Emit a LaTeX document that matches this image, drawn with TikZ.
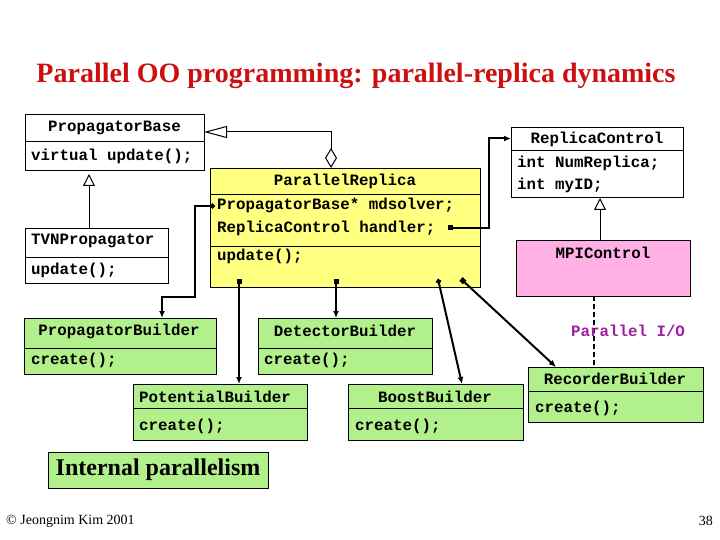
\documentclass[tikz,border=0pt]{standalone}
\usepackage{fontspec}
\setmainfont{Liberation Serif}
\setmonofont{Liberation Mono}
\usetikzlibrary{arrows.meta,calc}
\definecolor{ttlred}{RGB}{205,15,15}
\definecolor{clsyellow}{RGB}{255,255,128}
\definecolor{clsgreen}{RGB}{178,240,140}
\definecolor{clspink}{RGB}{255,176,228}
\definecolor{iopurple}{RGB}{160,30,160}
\begin{document}
\begin{tikzpicture}[x=1pt,y=-1pt,
  comp/.style={draw=black, line width=0.9pt, anchor=north west, inner sep=0pt, outer sep=0pt},
  code/.style={font=\fontsize{15.8}{18}\selectfont\ttfamily\bfseries, inner sep=0pt},
  codel/.style={code, anchor=west},
  thinlink/.style={line width=1pt},
  link/.style={line width=2pt}
]
\useasboundingbox[fill=white] (0,0) rectangle (720,540);

% title
\node[text=ttlred, font=\fontsize{28}{32}\selectfont\bfseries, inner sep=0pt] (title) at (356,76) {Parallel OO programming: parallel-replica dynamics};

% PropagatorBase
\node[comp, minimum width=179pt, minimum height=27pt] (pbH) at (25,114) {};
\node[comp, minimum width=179pt, minimum height=29pt] (pbB) at (25,141) {};
\node[code] (pbT) at (pbH.center) {PropagatorBase};
\node[codel] (pbM) at (31,156) {virtual update();};

% TVNPropagator
\node[comp, minimum width=143pt, minimum height=29pt] (tvH) at (25,228) {};
\node[comp, minimum width=143pt, minimum height=26pt] (tvB) at (25,257) {};
\node[codel] (tvT) at (31,241) {TVNPropagator};
\node[codel] (tvM) at (31,270) {update();};

% ParallelReplica
\node[comp, fill=clsyellow, minimum width=270pt, minimum height=26pt] (prH) at (210,168) {};
\node[comp, fill=clsyellow, minimum width=270pt, minimum height=52pt] (prA) at (210,194) {};
\node[comp, fill=clsyellow, minimum width=270pt, minimum height=41pt] (prM) at (210,246) {};
\node[code] (prT) at (345,181) {ParallelReplica};
\node[codel] (prA1) at (217,205) {PropagatorBase* mdsolver;};
\node[codel] (prA2) at (217,228) {ReplicaControl handler;};
\node[codel] (prM1) at (217,256) {update();};

% ReplicaControl
\node[comp, minimum width=172pt, minimum height=23pt] (rcH) at (511,127) {};
\node[comp, minimum width=172pt, minimum height=47pt] (rcB) at (511,150) {};
\node[code] (rcT) at (597,139) {ReplicaControl};
\node[codel] (rcA1) at (517,163) {int NumReplica;};
\node[codel] (rcA2) at (517,185) {int myID;};

% MPIControl
\node[comp, fill=clspink, minimum width=174pt, minimum height=56pt] (mpi) at (516,240) {};
\node[code] (mpiT) at (603,253) {MPIControl};

% Builders
\node[comp, fill=clsgreen, minimum width=192pt, minimum height=30pt] (pgH) at (24,318) {};
\node[comp, fill=clsgreen, minimum width=192pt, minimum height=26pt] (pgB) at (24,348) {};
\node[code] (pgT) at (119,331) {PropagatorBuilder};
\node[codel] (pgM) at (31,360) {create();};

\node[comp, fill=clsgreen, minimum width=174pt, minimum height=30pt] (dbH) at (258,318) {};
\node[comp, fill=clsgreen, minimum width=174pt, minimum height=26pt] (dbB) at (258,348) {};
\node[code] (dbT) at (345,331) {DetectorBuilder};
\node[codel] (dbM) at (264,360) {create();};

\node[comp, fill=clsgreen, minimum width=174pt, minimum height=24pt] (ptH) at (133,384) {};
\node[comp, fill=clsgreen, minimum width=174pt, minimum height=32pt] (ptB) at (133,408) {};
\node[codel] (ptT) at (139,397) {PotentialBuilder};
\node[codel] (ptM) at (139,426) {create();};

\node[comp, fill=clsgreen, minimum width=175pt, minimum height=24pt] (bbH) at (348,384) {};
\node[comp, fill=clsgreen, minimum width=175pt, minimum height=32pt] (bbB) at (348,408) {};
\node[code] (bbT) at (435,397) {BoostBuilder};
\node[codel] (bbM) at (355,426) {create();};

\node[comp, fill=clsgreen, minimum width=175pt, minimum height=24pt] (rbH) at (528,367) {};
\node[comp, fill=clsgreen, minimum width=175pt, minimum height=31pt] (rbB) at (528,391) {};
\node[code] (rbT) at (615,379) {RecorderBuilder};
\node[codel] (rbM) at (535,408) {create();};

% Internal parallelism
\node[comp, fill=clsgreen, minimum width=220pt, minimum height=36pt] (ip) at (48,452) {};
\node[font=\fontsize{24}{28}\selectfont\bfseries, inner sep=0pt] (ipT) at (ip.center) {Internal parallelism};

% footer
\node[font=\fontsize{14}{16}\selectfont, anchor=west, inner sep=0pt] (copy) at (6,521) {© Jeongnim Kim 2001};
\node[font=\fontsize{14}{16}\selectfont, anchor=east, inner sep=0pt] (pg) at (713,521) {38};

% aggregation ParallelReplica -> PropagatorBase
\coordinate (aggS) at ([xshift=121pt]prH.north west);
\coordinate (aggE) at ([yshift=-18pt]pbH.north east);
\draw[thinlink, {Diamond[open,length=20pt,width=12pt]}-{Triangle[open,length=23pt,width=12pt]}]
  (aggS) -- ++(0,-36) -- (aggE);

% inheritance TVNPropagator -> PropagatorBase
\draw[thinlink, -{Triangle[open,length=12pt,width=12pt]}, shorten >=4pt]
  ([xshift=64pt]tvH.north west) -- ([xshift=64pt]pbB.south west);

% inheritance MPIControl -> ReplicaControl
\draw[thinlink, -{Triangle[open,length=12pt,width=12pt]}, shorten >=1pt]
  ([xshift=84pt]mpi.north west) -- ([xshift=89pt]rcB.south west);

% handler -> ReplicaControl
\coordinate (hS) at ([xshift=243pt,yshift=-34pt]prA.north west);
\draw[link, {Square[length=5pt,width=5pt]}-{Latex[length=7pt,width=6pt]}]
  (hS) -- ++(-2,0) -- ++(38,0) |- (rcH.west);

% mdsolver -> PropagatorBuilder
\coordinate (mS) at ([xshift=5pt,yshift=-12pt]prA.north west);
\draw[link, {Circle[length=5pt]}-{Latex[length=7pt,width=6pt]}]
  (mS) -- ++(-20,0) -- ++(0,91) -- ++(-33,0) -- ([xshift=138pt]pgH.north west);

% bottom links
\draw[link, {Square[length=5pt,width=5pt]}-{Latex[length=7pt,width=6pt]}]
  ([xshift=29pt,yshift=-33pt]prM.north west) -- ([xshift=106pt]ptH.north west);
\draw[link, {Square[length=5pt,width=5pt]}-{Latex[length=7pt,width=6pt]}]
  ([xshift=126pt,yshift=-33pt]prM.north west) -- ([xshift=78pt]dbH.north west);
\draw[link, {Circle[length=5pt]}-{Latex[length=7pt,width=6pt]}]
  ([xshift=228pt,yshift=-33pt]prM.north west) -- ([xshift=114pt]bbH.north west);
\draw[link, {Square[length=5pt,width=5pt]}-{Latex[length=7pt,width=6pt]}]
  ([xshift=251pt,yshift=-33pt]prM.north west) -- ([xshift=28pt]rbH.north west);

% dashed MPIControl -> RecorderBuilder
\draw[link, dash pattern=on 5pt off 3pt]
  ([xshift=78pt]mpi.south west) -- ([xshift=66pt]rbH.north west);
\node[codel, text=iopurple] (pio) at (571,331) {Parallel I/O};
\end{tikzpicture}
\end{document}
